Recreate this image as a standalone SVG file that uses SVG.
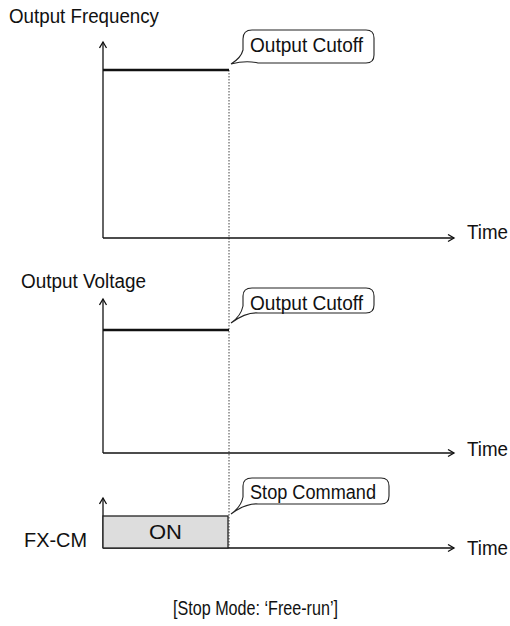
<svg xmlns="http://www.w3.org/2000/svg" width="510" height="626" viewBox="0 0 510 626">
<style>
text{font-family:"Liberation Sans",Arial,sans-serif;font-size:19.5px;fill:#111}
.ax{stroke:#111;stroke-width:1.3;fill:none}
.sig{stroke:#111;stroke-width:2.6;fill:none}
.dot{stroke:#444;stroke-width:1;stroke-dasharray:1.5 1.5;fill:none}
.bub{fill:#fff;stroke:#222;stroke-width:1.1}
</style>
<defs>
<marker id="arr" markerWidth="10" markerHeight="10" refX="7" refY="4" orient="auto" markerUnits="userSpaceOnUse">
<path d="M1,0.5 L7,4 L1,7.5" fill="none" stroke="#111" stroke-width="1.3"/>
</marker>
</defs>
<rect width="510" height="626" fill="#fff"/>

<g id="connectors">
<line class="dot" x1="229" y1="70" x2="229" y2="548"/>
<line class="ax" x1="103" y1="238" x2="103" y2="42" marker-end="url(#arr)"/>
<line class="ax" x1="103" y1="238" x2="454" y2="238" marker-end="url(#arr)"/>
<line class="sig" x1="103" y1="70" x2="229" y2="70"/>
<line class="ax" x1="103" y1="453" x2="103" y2="299" marker-end="url(#arr)"/>
<line class="ax" x1="103" y1="453" x2="454" y2="453" marker-end="url(#arr)"/>
<line class="sig" x1="103" y1="330" x2="229" y2="330"/>
<line class="ax" x1="103" y1="548" x2="103" y2="498" marker-end="url(#arr)"/>
<line class="ax" x1="103" y1="548" x2="454" y2="548" marker-end="url(#arr)"/>
</g>

<g id="freq-label"><text x="9" y="23" textLength="150" lengthAdjust="spacingAndGlyphs">Output Frequency</text></g>
<g id="freq-time"><text x="467" y="239" textLength="41" lengthAdjust="spacingAndGlyphs">Time</text></g>
<g id="freq-cutoff">
<path class="bub" d="M252,30 H366 Q374,30 374,38 V55 Q374,63 366,63 H258 Q246,60 231,64 Q241,58 243,50 V39 Q243,30 252,30 Z"/>
<text x="250" y="52" textLength="113" lengthAdjust="spacingAndGlyphs">Output Cutoff</text>
</g>

<g id="volt-label"><text x="21" y="288" textLength="125" lengthAdjust="spacingAndGlyphs">Output Voltage</text></g>
<g id="volt-time"><text x="467" y="456" textLength="41" lengthAdjust="spacingAndGlyphs">Time</text></g>
<g id="volt-cutoff">
<path class="bub" d="M252,288 H366 Q374,288 374,296 V305 Q374,313 366,313 H258 Q246,312 231,323 Q241,316 243,306 V296 Q243,288 252,288 Z"/>
<text x="250" y="310" textLength="113" lengthAdjust="spacingAndGlyphs">Output Cutoff</text>
</g>

<g id="fxcm">
<text x="24" y="547" textLength="63" lengthAdjust="spacingAndGlyphs">FX-CM</text>
<rect x="103" y="516" width="125" height="32" fill="#dddddd" stroke="#222" stroke-width="1.3"/>
<text x="149" y="539" textLength="33" lengthAdjust="spacingAndGlyphs">ON</text>
</g>
<g id="fxcm-time"><text x="467" y="555" textLength="41" lengthAdjust="spacingAndGlyphs">Time</text></g>
<g id="stop-command">
<path class="bub" d="M252,478 H381 Q389,478 389,486 V496 Q389,504 381,504 H258 Q246,503 231,514 Q241,507 243,497 V486 Q243,478 252,478 Z"/>
<text x="250" y="499" textLength="126" lengthAdjust="spacingAndGlyphs">Stop Command</text>
</g>

<g id="caption"><text x="173" y="615" textLength="165" lengthAdjust="spacingAndGlyphs">[Stop Mode: ‘Free-run’]</text></g>
</svg>
